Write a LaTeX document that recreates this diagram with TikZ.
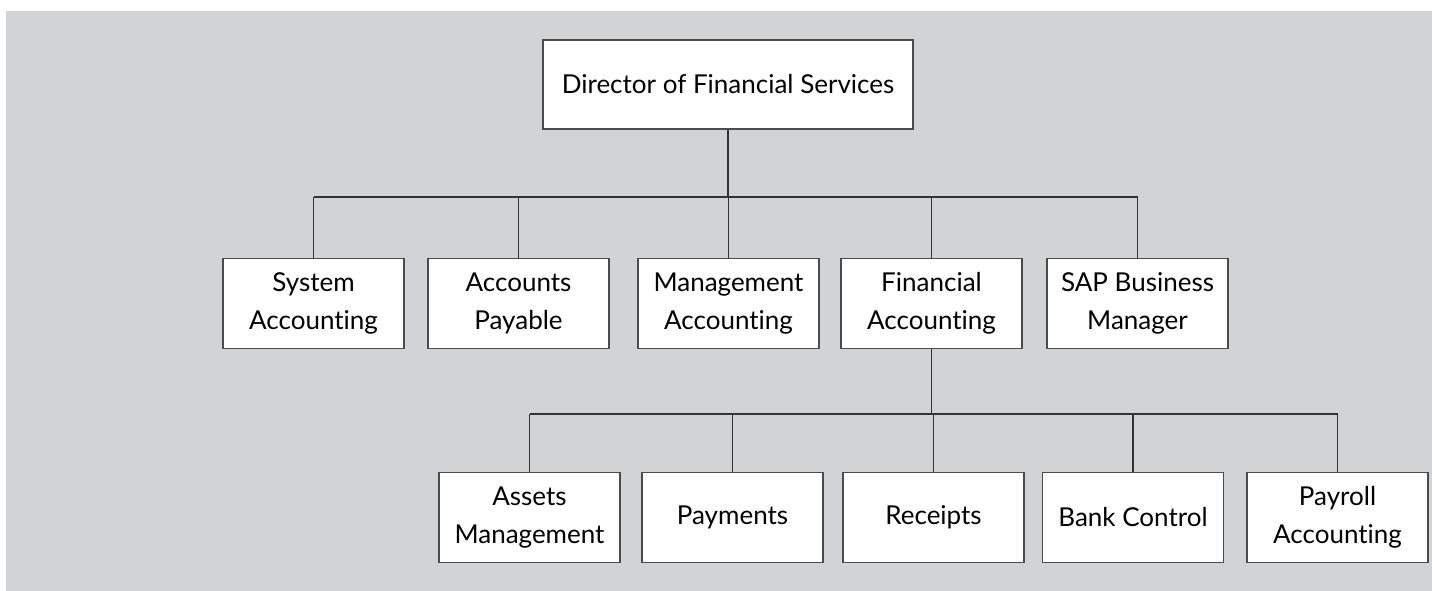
\documentclass[tikz,border=0pt]{standalone}
\usepackage{fontspec}
\setmainfont{Lato}[Ligatures=NoCommon]

\definecolor{fondgris}{RGB}{210,211,213}
\definecolor{traitgris}{RGB}{75,75,75}

\tikzset{
  boite/.style={draw=traitgris, line width=0.7pt, fill=white,
    minimum width=3.62cm, minimum height=1.8cm, inner sep=0pt,
    align=center, font=\fontsize{14.8}{21.6}\selectfont},
  lien/.style={draw=black!80, line width=0.7pt}
}

\begin{document}
\begin{tikzpicture}[x=0.02cm,y=-0.02cm]
  \useasboundingbox (0,0) rectangle (1432,591);

  % Fond gris
  \fill[fondgris] (6,11) rectangle (1432,591);

  % Directeur
  \node[boite, minimum width=7.4cm, minimum height=1.78cm] (dir) at (728,84.5) {Director of Financial Services};

  % Deuxieme niveau
  \foreach \nom/\x/\texte in {sys/313.5/{System\\Accounting}, acc/518.5/{Accounts\\Payable},
      mgt/728.5/{Management\\Accounting}, fin/931.5/{Financial\\Accounting},
      sap/1137.5/{SAP Business\\Manager}} {
    \node[boite] (\nom) at (\x,303.5) {\texte};
  }

  % Troisieme niveau
  \foreach \nom/\x/\texte in {ass/529.5/{Assets\\Management}, pay/732.5/{Payments},
      rec/933.5/{Receipts}, ban/1133/{Bank Control}, sal/1337.5/{Payroll\\Accounting}} {
    \node[boite] (\nom) at (\x,517.5) {\texte};
  }

  % Liens du directeur
  \coordinate (bus1) at (728,197);
  \draw[lien] (dir.south) -- (bus1);
  \draw[lien] (sys.north |- bus1) -- (sap.north |- bus1);
  \foreach \nom in {sys,acc,mgt,fin,sap}
    \draw[lien] (\nom.north |- bus1) -- (\nom.north);

  % Liens de la comptabilite financiere
  \coordinate (bus2) at (931.5,414);
  \draw[lien] (fin.south) -- (bus2);
  \draw[lien] (ass.north |- bus2) -- (sal.north |- bus2);
  \foreach \nom in {ass,pay,rec,ban,sal}
    \draw[lien] (\nom.north |- bus2) -- (\nom.north);
\end{tikzpicture}
\end{document}
